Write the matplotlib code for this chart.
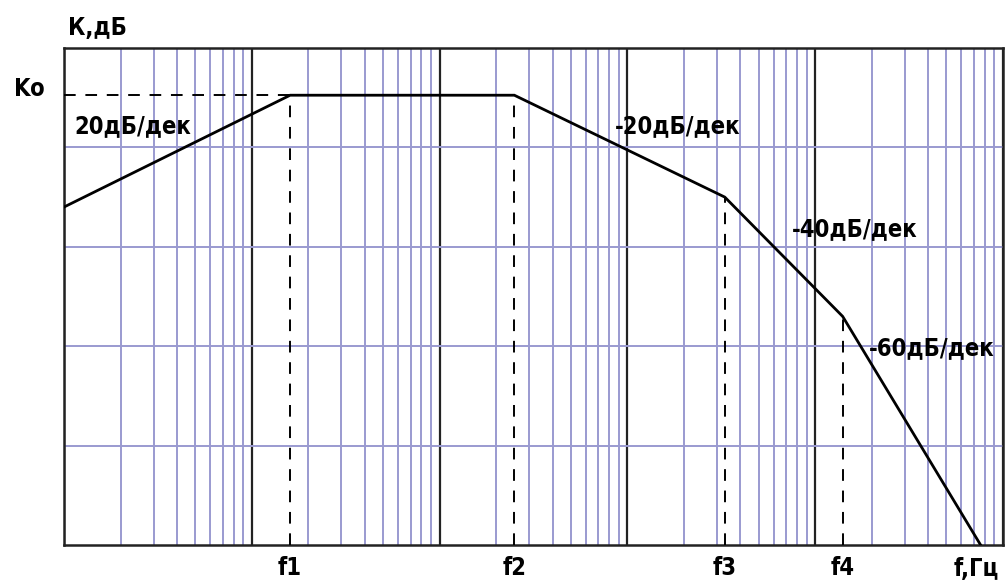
import matplotlib.pyplot as plt
import matplotlib.font_manager as fm
from matplotlib.ticker import LogLocator, NullFormatter, FixedLocator

# corner frequencies (Hz, log axis) and gain levels (dB)
freqs = [1.0, 16.0, 250.0, 3300.0, 14000.0, 76000.0]
gain_db = [68.0, 90.5, 90.5, 70.0, 46.0, 0.0]
k0 = 90.5
corner_idx = [1, 2, 3, 4]
corner_labels = ['f1', 'f2', 'f3', 'f4']
slope_labels = ['20дБ/дек', '-20дБ/дек', '-40дБ/дек', '-60дБ/дек']
slope_pos = [(74, 126), (615, 126), (792, 229), (869, 348)]  # pixel, left / center y

# look for a narrow bold face, the reference uses a condensed font
stretch = 'normal'
names = {f.name for f in fm.fontManager.ttflist}
if any(f.name == 'DejaVu Sans' and f.stretch == 'condensed' for f in fm.fontManager.ttflist):
    fam = ['DejaVu Sans']
    stretch = 'condensed'
elif 'Liberation Sans Narrow' in names:
    fam = ['Liberation Sans Narrow', 'DejaVu Sans']
else:
    fam = ['Liberation Sans', 'DejaVu Sans']
plt.rcParams['font.family'] = fam

W, H = 1006, 588
fig = plt.figure(figsize=(W / 100, H / 100), dpi=100)
L, R, T, B = 64, 1003, 48, 545
ax = fig.add_axes([L / W, 1 - B / H, (R - L) / W, (B - T) / H])

ax.set_xscale('log')
ax.set_xlim(1, 1e5)
ax.set_ylim(0, 100)

grid_c = '#9a9ad0'
ax.xaxis.set_major_locator(LogLocator(base=10))
ax.xaxis.set_minor_locator(LogLocator(base=10, subs=range(2, 10)))
ax.xaxis.set_major_formatter(NullFormatter())
ax.xaxis.set_minor_formatter(NullFormatter())
ax.yaxis.set_major_locator(FixedLocator([20, 40, 60, 80]))
ax.yaxis.set_major_formatter(NullFormatter())
ax.tick_params(which='both', length=0)
ax.grid(True, axis='x', which='minor', color=grid_c, lw=1.4)
ax.grid(True, axis='x', which='major', color='#222222', lw=1.6)
ax.grid(True, axis='y', which='major', color=grid_c, lw=1.4)
for s in ax.spines.values():
    s.set_linewidth(1.8)
    s.set_color('#222222')

# asymptotic response
ax.plot(freqs, gain_db, color='black', lw=2.0, solid_joinstyle='miter', zorder=5)

# dashed guides
ax.plot([1, freqs[1]], [k0, k0], color='black', lw=1.4, ls=(0, (6, 5)), zorder=4)
for i in corner_idx:
    ax.plot([freqs[i], freqs[i]], [0, gain_db[i]], color='black', lw=1.4, ls=(0, (6, 5)), zorder=4)

fs = 17
tr = ax.get_xaxis_transform()
for i, lab in zip(corner_idx, corner_labels):
    ax.text(freqs[i], -0.047, lab, transform=tr, ha='center', va='center',
            fontsize=fs, fontweight='bold', fontstretch=stretch)

def ftext(x, y, s, ha='left'):
    fig.text(x / W, 1 - y / H, s, ha=ha, va='center', fontsize=fs,
             fontweight='bold', fontstretch=stretch)

ftext(976, 569, 'f,Гц', ha='center')
ftext(68, 28, 'К,дБ')
ftext(14, 89, 'Ko')
for (px, py), s in zip(slope_pos, slope_labels):
    ftext(px, py, s)

fig.savefig('out.png', dpi=100)
